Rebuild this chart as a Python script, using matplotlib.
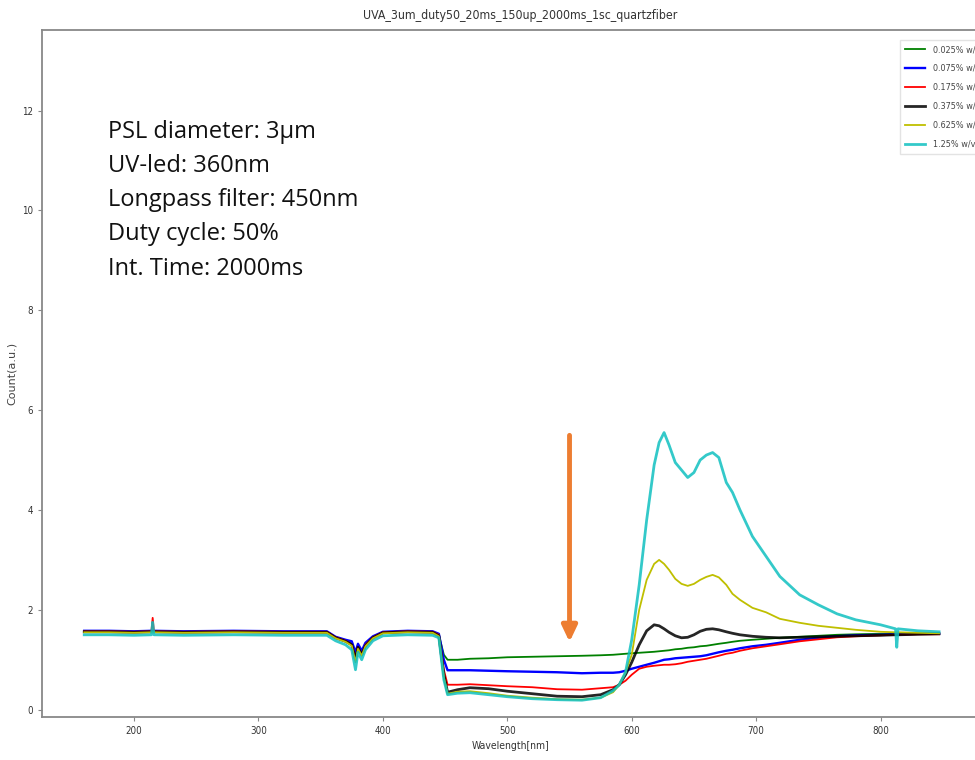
import matplotlib
matplotlib.use('Agg')
import matplotlib.pyplot as plt

# wavelength grid (nm) and counts
wl = [160, 180, 200, 214, 215, 216, 240, 280, 320, 355, 362, 370, 375, 378, 380, 383, 386, 392,
      400, 420, 440, 445, 449, 452, 460, 470, 485, 500, 520, 540, 560, 575, 585, 590, 595, 600,
      606, 612, 618, 622, 626, 630, 635, 640, 645, 650, 655, 660, 665, 670, 676, 681, 687, 697,
      708, 719, 735, 750, 765, 780, 800, 812, 813, 814, 830, 847]

c_0025 = [1.57, 1.57, 1.56, 1.57, 1.57, 1.57, 1.56, 1.57, 1.56, 1.56, 1.45, 1.38, 1.35, 1.10, 1.30, 1.15, 1.32, 1.45,
          1.55, 1.57, 1.56, 1.50, 1.10, 1.00, 1.00, 1.02, 1.03, 1.05, 1.06, 1.07, 1.08, 1.09, 1.10, 1.11, 1.12, 1.13,
          1.14, 1.15, 1.16, 1.17, 1.18, 1.19, 1.21, 1.22, 1.24, 1.25, 1.27, 1.28, 1.30, 1.32, 1.34, 1.36, 1.38, 1.40,
          1.42, 1.44, 1.46, 1.48, 1.50, 1.51, 1.52, 1.52, 1.52, 1.52, 1.53, 1.53]
c_0075 = [1.58, 1.58, 1.57, 1.58, 1.58, 1.58, 1.57, 1.58, 1.57, 1.57, 1.46, 1.40, 1.37, 1.15, 1.32, 1.18, 1.34, 1.47,
          1.56, 1.58, 1.57, 1.52, 1.00, 0.79, 0.79, 0.79, 0.78, 0.77, 0.76, 0.75, 0.73, 0.74, 0.74, 0.75, 0.78, 0.82,
          0.86, 0.90, 0.94, 0.97, 1.00, 1.01, 1.03, 1.04, 1.05, 1.06, 1.07, 1.09, 1.12, 1.15, 1.18, 1.20, 1.23, 1.27,
          1.30, 1.34, 1.40, 1.44, 1.47, 1.49, 1.50, 1.51, 1.51, 1.51, 1.52, 1.52]
c_0175 = [1.57, 1.57, 1.56, 1.57, 1.84, 1.57, 1.56, 1.57, 1.56, 1.56, 1.45, 1.38, 1.30, 1.05, 1.25, 1.10, 1.30, 1.45,
          1.55, 1.57, 1.56, 1.50, 0.80, 0.50, 0.50, 0.51, 0.49, 0.47, 0.45, 0.41, 0.40, 0.43, 0.45, 0.50, 0.58, 0.70,
          0.82, 0.86, 0.88, 0.89, 0.90, 0.90, 0.91, 0.93, 0.96, 0.98, 1.00, 1.02, 1.05, 1.08, 1.12, 1.14, 1.18, 1.23,
          1.27, 1.31, 1.37, 1.41, 1.45, 1.47, 1.49, 1.50, 1.50, 1.50, 1.51, 1.51]
c_0375 = [1.56, 1.56, 1.55, 1.56, 1.56, 1.56, 1.55, 1.56, 1.55, 1.55, 1.44, 1.37, 1.30, 1.00, 1.25, 1.10, 1.28, 1.44,
          1.54, 1.56, 1.55, 1.48, 0.70, 0.35, 0.40, 0.44, 0.42, 0.37, 0.32, 0.27, 0.26, 0.30, 0.40, 0.50, 0.70, 0.95,
          1.30, 1.58, 1.70, 1.68, 1.62, 1.55, 1.48, 1.44, 1.45, 1.50, 1.57, 1.61, 1.62, 1.60, 1.56, 1.53, 1.50, 1.47,
          1.45, 1.44, 1.45, 1.46, 1.47, 1.48, 1.49, 1.50, 1.50, 1.50, 1.51, 1.52]
c_0625 = [1.55, 1.55, 1.54, 1.55, 1.55, 1.55, 1.54, 1.55, 1.54, 1.54, 1.43, 1.36, 1.28, 0.95, 1.22, 1.08, 1.27, 1.43,
          1.53, 1.55, 1.54, 1.47, 0.65, 0.32, 0.36, 0.37, 0.33, 0.28, 0.24, 0.21, 0.20, 0.24, 0.35, 0.50, 0.75, 1.10,
          2.00, 2.60, 2.92, 3.00, 2.92, 2.80, 2.62, 2.52, 2.48, 2.52, 2.60, 2.66, 2.70, 2.65, 2.50, 2.32, 2.20, 2.04,
          1.95, 1.82, 1.74, 1.68, 1.64, 1.60, 1.56, 1.55, 1.55, 1.55, 1.54, 1.53]
c_125 = [1.50, 1.50, 1.49, 1.50, 1.75, 1.50, 1.49, 1.50, 1.49, 1.49, 1.38, 1.30, 1.20, 0.80, 1.15, 1.00, 1.20, 1.38,
         1.48, 1.50, 1.49, 1.44, 0.60, 0.30, 0.33, 0.34, 0.30, 0.26, 0.22, 0.20, 0.19, 0.24, 0.38, 0.50, 0.75, 1.40,
         2.50, 3.80, 4.90, 5.35, 5.55, 5.30, 4.95, 4.80, 4.65, 4.75, 5.00, 5.10, 5.15, 5.05, 4.55, 4.35, 4.00, 3.47,
         3.07, 2.67, 2.30, 2.10, 1.92, 1.80, 1.70, 1.62, 1.25, 1.62, 1.58, 1.56]

series = [c_0025, c_0075, c_0175, c_0375, c_0625, c_125]
labels = ['0.025% w/v', '0.075% w/v', '0.175% w/v', '0.375% w/v', '0.625% w/v', '1.25% w/v']
colors = ['g', 'b', 'r', 'k', 'y', '#10c0c0']
widths = [1.3, 1.7, 1.3, 2.0, 1.3, 2.0]
alphas = [1.0, 1.0, 1.0, 0.85, 1.0, 0.85]

info = ['PSL diameter: 3\u00b5m', 'UV-led: 360nm', 'Longpass filter: 450nm',
        'Duty cycle: 50%', 'Int. Time: 2000ms']

narrow = dict(family='DejaVu Sans', stretch='condensed')

fig = plt.figure(figsize=(9.75, 7.6), dpi=100)
ax = fig.add_axes([0.043, 0.057, 0.961, 0.904])

for y, lab, col, lw, al in zip(series, labels, colors, widths, alphas):
    ax.plot(wl, y, color=col, lw=lw, alpha=al, label=lab)

ax.set_xlim(126, 879)
ax.set_ylim(-0.14, 13.62)
ax.set_xticks([200, 300, 400, 500, 600, 700, 800])
ax.set_yticks([0, 2, 4, 6, 8, 10, 12])
for lab in ax.get_xticklabels() + ax.get_yticklabels():
    lab.set_stretch('condensed')
    lab.set_fontsize(7)
    lab.set_color('#333333')
ax.tick_params(length=3, color='#888888')
for sp in ax.spines.values():
    sp.set_color('#888888')
    sp.set_linewidth(1.3)

ax.set_xlabel('Wavelength[nm]', fontsize=7.5, color='#333333', **narrow)
ax.set_ylabel('Count(a.u.)', fontsize=8, color='#444444')
ax.yaxis.set_label_coords(-0.027, 0.5)
ax.set_title('UVA_3um_duty50_20ms_150up_2000ms_1sc_quartzfiber', x=0.51,
             fontsize=8.8, color='#333333', pad=8, **narrow)

leg = ax.legend(loc='upper left', bbox_to_anchor=(0.911, 0.992),
                prop={'family': 'DejaVu Sans', 'stretch': 'condensed', 'size': 6.5},
                handlelength=2.2, labelspacing=1.1, frameon=True, fancybox=False,
                borderpad=0.6)
leg.get_frame().set_edgecolor('#dddddd')
for t in leg.get_texts():
    t.set_color('#444444')

# orange arrow marking the filter region
ax.annotate('', xy=(550, 1.30), xytext=(550, 5.55),
            arrowprops=dict(arrowstyle='-|>,head_width=0.45,head_length=0.95',
                            color='#ED7D31', lw=3.5))

ax.text(0.0705, 0.869, '\n'.join(info), transform=ax.transAxes, va='top', ha='left',
        family=['Open Sans', 'DejaVu Sans'], fontsize=17, linespacing=1.57, color='#111111')

fig.savefig('out.png', dpi=100)
